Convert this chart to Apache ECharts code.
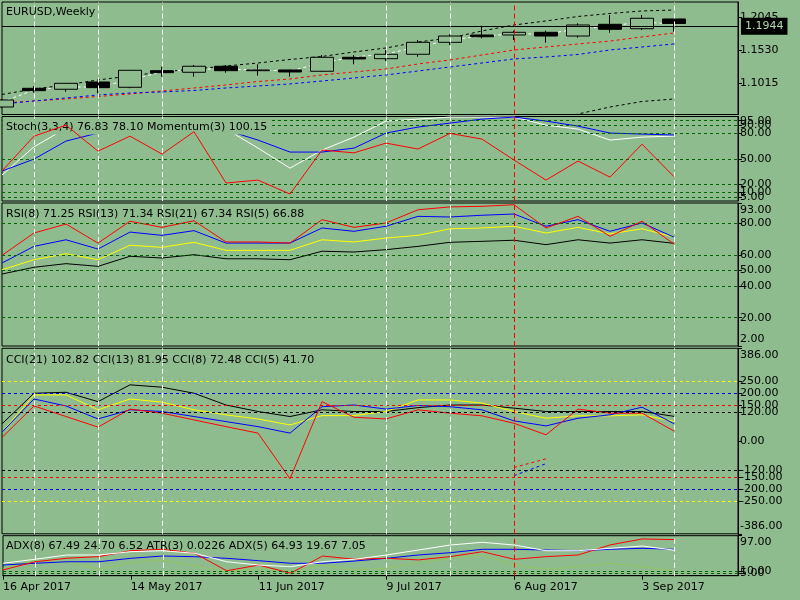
<!DOCTYPE html>
<html>
<head>
<meta charset="utf-8">
<script src="https://cdn.jsdelivr.net/npm/echarts/dist/echarts.min.js"></script>
<style>
  html, body { margin: 0; padding: 0; background: #8fbc8f; }
  #chart { width: 800px; height: 600px; }
</style>
</head>
<body>
<div id="chart"></div>
<script>
// weekly bars, EURUSD (two empty slots on the right)
const dates = ['16 Apr 2017', '23 Apr 2017', '30 Apr 2017', '7 May 2017', '14 May 2017', '21 May 2017',
  '28 May 2017', '4 Jun 2017', '11 Jun 2017', '18 Jun 2017', '25 Jun 2017', '2 Jul 2017', '9 Jul 2017',
  '16 Jul 2017', '23 Jul 2017', '30 Jul 2017', '6 Aug 2017', '13 Aug 2017', '20 Aug 2017', '27 Aug 2017',
  '3 Sep 2017', '10 Sep 2017', '', ''];

const open  = [1.0640, 1.0932, 1.0917, 1.1031, 1.0948, 1.1207, 1.1182, 1.1276, 1.1207, 1.1218, 1.1198,
  1.1416, 1.1394, 1.1463, 1.1650, 1.1764, 1.1764, 1.1806, 1.1748, 1.1931, 1.1862, 1.2014];
const close = [1.0750, 1.0895, 1.1010, 1.0942, 1.1213, 1.1176, 1.1276, 1.1207, 1.1218, 1.1187, 1.1416,
  1.1390, 1.1463, 1.1650, 1.1748, 1.1737, 1.1806, 1.1748, 1.1920, 1.1853, 1.2025, 1.1944];
const low   = [1.0625, 1.0864, 1.0879, 1.0854, 1.0932, 1.1113, 1.1113, 1.1176, 1.1129, 1.1113, 1.1190,
  1.1307, 1.1358, 1.1425, 1.1608, 1.1713, 1.1686, 1.1644, 1.1722, 1.1800, 1.1842, 1.1816];
const high  = [1.0765, 1.0968, 1.1015, 1.1035, 1.1218, 1.1269, 1.1296, 1.1296, 1.1307, 1.1225, 1.1452,
  1.1452, 1.1530, 1.1686, 1.1775, 1.1909, 1.1831, 1.1831, 1.1947, 1.2076, 1.2076, 1.2014];
const bid = 1.1944;

// overlays on price
const bandUpper = [1.0836, 1.0921, 1.0984, 1.1062, 1.1124, 1.1187, 1.1233, 1.1280, 1.1327, 1.1382, 1.1429,
  1.1499, 1.1561, 1.1655, 1.1717, 1.1827, 1.1920, 1.1983, 1.2053, 1.2100, 1.2139, 1.2154];
const bandLower = [null, null, null, null, null, null, null, null, null, null, null,
  null, null, null, null, null, null, 1.0380, 1.0531, 1.0640, 1.0726, 1.0765];
const maFast = [1.0718, 1.0906, 1.0953, 1.0953, 1.1062, 1.1187, 1.1233, 1.1233, 1.1218, 1.1202, 1.1327,
  1.1421, 1.1468, 1.1577, 1.1686, 1.1748, 1.1780, 1.1780, 1.1858, 1.1905, 1.1967, 1.1936];
const maRed = [1.0703, 1.0734, 1.0765, 1.0804, 1.0843, 1.0890, 1.0937, 1.0984, 1.1038, 1.1077, 1.1140,
  1.1187, 1.1233, 1.1312, 1.1374, 1.1452, 1.1530, 1.1577, 1.1624, 1.1670, 1.1733, 1.1795];
const maBlue = [1.0687, 1.0734, 1.0781, 1.0828, 1.0859, 1.0875, 1.0898, 1.0937, 1.0968, 1.1000, 1.1046,
  1.1093, 1.1140, 1.1202, 1.1265, 1.1327, 1.1390, 1.1421, 1.1460, 1.1530, 1.1577, 1.1624];

// Stoch(3,3,4) + Momentum(3)
const stochMain = [30.7, 64.1, 86, 92, 90, 88, 90, 85.1, 62.6, 38.9, 60.2, 75.6, 94.6, 96.9, 99.3, 99.3,
  99.3, 89.8, 85.1, 72.1, 75.6, 76.83];
const stochSignal = [35.4, 49.6, 70.9, 80.4, 86.3, 88.6, 87.5, 83.9, 72.1, 57.9, 57.9, 62.6, 80.4, 87.5,
  92.2, 96.9, 99.3, 94.6, 88.6, 80.4, 79.2, 78.10];
const momentum = [100.42, 102.07, 102.59, 101.36, 102.07, 101.22, 102.28, 99.85, 99.99, 99.33, 101.41,
  101.28, 101.74, 101.46, 102.20, 101.93, 100.94, 99.99, 100.89, 100.13, 101.69, 100.15];
const stochLevels = [95, 90, 80, 50, 20, 10, 5];
const stochTicks = [100, 95, 90, 80, 50, 20, 10, 5, 0];
const stochTickText = ['100.0', '95.00', '90.00', '80.00', '50.00', '20.00', '10.00', '5.00', '0.00'];

// RSI
const rsi8  = [54.8, 65.4, 69.6, 63.7, 74.5, 72.4, 75.4, 67.5, 67.5, 67.5, 77.1, 75.0, 78.2, 84.5, 84.1,
  85.2, 86.0, 78.2, 82.4, 75.0, 80.3, 71.25];
const rsi13 = [50.5, 56.9, 60.7, 56.9, 66.1, 64.8, 68.0, 62.9, 62.9, 62.9, 69.6, 68.2, 70.7, 72.4, 76.6,
  77.1, 78.2, 73.9, 77.5, 73.3, 76.6, 71.34];
const rsi21 = [47.8, 52.1, 54.4, 52.7, 59.1, 58.0, 60.1, 57.5, 57.5, 56.9, 62.3, 61.8, 63.3, 65.4, 68.0,
  68.6, 69.3, 66.5, 69.6, 67.5, 69.6, 67.34];
const rsi5  = [59.7, 73.9, 79.6, 67.5, 81.4, 77.5, 81.7, 68.2, 68.2, 67.5, 82.4, 77.5, 80.3, 88.7, 90.5,
  90.9, 91.9, 77.1, 84.5, 71.8, 81.4, 66.88];
const rsiLevels = [80, 60, 50, 40, 20];
const rsiTicks = [93, 80, 60, 50, 40, 20, 2];

// CCI
const cci21 = [71.5, 199, 203, 164, 234, 224, 199, 150, 123, 102, 130, 123, 123, 139, 150, 150, 137, 123,
  123, 123, 123, 102.82];
const cci13 = [37, 192, 192, 130, 175, 162, 130, 109, 92, 67, 106, 106, 123, 171, 171, 158, 123, 95, 105,
  105, 109, 81.95];
const cci8  = [37, 175, 146, 92, 130, 123, 102, 81, 60, 33, 143, 150, 133, 148, 143, 130, 84, 63, 95, 109,
  141, 72.48];
const cci5  = [15, 146, 102, 58, 133, 116, 88, 60, 33, -157, 164, 99, 92, 130, 116, 105, 74, 26, 133, 116,
  116, 41.70];
const trendRed  = [null, null, null, null, null, null, null, null, null, null, null, null, null, null, null,
  null, -110, -74];
const trendBlue = [null, null, null, null, null, null, null, null, null, null, null, null, null, null, null,
  null, -144, -94];
const cciTicks = [386, 250, 200, 150, 120, 0, -120, -150, -200, -250, -386];

// ADX(8), ATR(3), ADX(5)
const adxWhite = [30.1, 39.8, 50.2, 50.2, 58.2, 60.6, 54.3, 33.9, 25.9, 21.8, 33.9, 39.8, 50.2, 62.3, 74.4,
  81.0, 74.4, 60.6, 60.6, 66.4, 72.0, 62.0];
const adxBlue = [25.9, 30.1, 33.9, 33.9, 42.2, 47.8, 46.1, 42.2, 36.4, 30.1, 30.1, 35.6, 42.2, 50.2, 55.8,
  64.0, 64.0, 62.3, 60.6, 64.0, 66.4, 64.0];
const adxDi = [17.9, 36.4, 33.9, 15.5, 31.5, 38.1, 23.5, 9.7, 17.9, 9.7, 25.9, 13.8, 17.9, 31.5, 42.2, 50.2,
  25.9, 15.5, 21.8, 30.1, 21.8, 12.1];
const atr = [0.0078, 0.0118, 0.0135, 0.0143, 0.0172, 0.0179, 0.0159, 0.0074, 0.0102, 0.0062, 0.0146,
  0.0130, 0.0135, 0.0127, 0.0143, 0.0167, 0.0130, 0.0143, 0.0151, 0.0200, 0.0229, 0.0226];
const adxLevels = [10, 5];
const adxTicks = [97, 10, 5, 0];

// vertical markers
const whiteMarks = ['23 Apr 2017', '7 May 2017', '21 May 2017', '9 Jul 2017', '23 Jul 2017', '10 Sep 2017'];
const redMark = '6 Aug 2017';

const FONT = 'DejaVu Sans';
const BG = '#8fbc8f';
const LEVEL = '#006400';
const DASH = [3, 3];

const chart = echarts.init(document.getElementById('chart'));

function rightAxis(grid, min, max, ticks, texts, padTop, padBot) {
  return {
    type: 'value', gridIndex: grid, position: 'right', min: min, max: max,
    axisLine: { show: true, lineStyle: { color: '#000', width: 1 } },
    splitLine: { show: false },
    axisTick: { show: true, length: 4, customValues: ticks, lineStyle: { color: '#000' } },
    axisLabel: {
      customValues: ticks, margin: 2, color: '#000', fontSize: 11, fontFamily: FONT,
      formatter: function (v) {
        const t = texts ? texts[ticks.indexOf(v)] : v.toFixed(2);
        if (v === max) return '{dn|' + t + '}';
        if (v === min) return '{up|' + t + '}';
        return t;
      },
      rich: {
        dn: { padding: [padTop, 0, 0, 0], fontSize: 11, fontFamily: FONT, color: '#000' },
        up: { padding: [0, 0, padBot, 0], fontSize: 11, fontFamily: FONT, color: '#000' }
      }
    }
  };
}

function hiddenAxis(grid, min, max) {
  return { type: 'value', gridIndex: grid, min: min, max: max, show: false, splitLine: { show: false } };
}

function line(data, color, xi, yi, extra) {
  const s = {
    type: 'line', data: data, xAxisIndex: xi, yAxisIndex: yi, symbol: 'none', silent: true, z: 2,
    lineStyle: { color: color, width: 1 }, itemStyle: { color: color }
  };
  if (extra) {
    if (extra.lineStyle) Object.assign(s.lineStyle, extra.lineStyle);
    Object.keys(extra).forEach(function (k) { if (k !== 'lineStyle') s[k] = extra[k]; });
  }
  return s;
}

function levelLines(vals, color) {
  return {
    symbol: 'none', silent: true, label: { show: false },
    lineStyle: { color: color, type: DASH, width: 1 },
    data: vals.map(function (v) { return { yAxis: v }; })
  };
}

function markers(xi, yi) {
  const data = whiteMarks.map(function (d) { return { xAxis: d, lineStyle: { color: '#fff' } }; });
  data.push({ xAxis: redMark, lineStyle: { color: '#ff0000' } });
  return {
    type: 'line', data: [], xAxisIndex: xi, yAxisIndex: yi, z: 10, silent: true,
    markLine: { symbol: 'none', silent: true, label: { show: false },
      lineStyle: { type: [5, 3], width: 1 }, data: data }
  };
}

const grids = [
  { top: 2, height: 112.5 },
  { top: 116.5, height: 84.5 },
  { top: 203, height: 143 },
  { top: 348.3, height: 185.5 },
  { top: 535.7, height: 40 }
].map(function (g) {
  return { left: 2, right: 62, top: g.top, height: g.height, show: true,
    borderColor: '#000', borderWidth: 1, backgroundColor: 'transparent' };
});

const xAxes = grids.map(function (g, i) {
  return {
    type: 'category', gridIndex: i, data: dates, boundaryGap: false, show: i === 4,
    axisLine: { show: true, lineStyle: { color: '#000' } },
    axisTick: { show: true, interval: 3, length: 4, lineStyle: { color: '#000' } },
    axisLabel: { interval: 3, align: 'left', margin: 6, color: '#000', fontSize: 11, fontFamily: FONT },
    splitLine: { show: false }
  };
});

const yAxes = [
  rightAxis(0, 1.0523, 1.2279, [1.1015, 1.1530, 1.2045], ['1.1015', '1.1530', '1.2045'], 0, 0),
  rightAxis(1, 0, 100, stochTicks, stochTickText, 12, 10),
  hiddenAxis(1, 99, 103),
  rightAxis(2, 2, 93, rsiTicks, null, 15, 13),
  rightAxis(3, -386, 386, cciTicks, null, 13, 15),
  rightAxis(4, 0, 97, adxTicks, null, 13, 4),
  hiddenAxis(4, 0.005, 0.0245)
];

const titleStyle = { color: '#000', fontSize: 11, fontWeight: 'normal', fontFamily: FONT, lineHeight: 13 };

const option = {
  backgroundColor: BG,
  animation: false,
  title: [
    { text: 'EURUSD,Weekly', left: 6, top: 5.5, padding: 0, textStyle: titleStyle },
    { text: 'Stoch(3,3,4) 76.83 78.10 Momentum(3) 100.15', left: 3, top: 118.5,
      padding: [2, 3, 1, 3], backgroundColor: BG, textStyle: titleStyle },
    { text: 'RSI(8) 71.25 RSI(13) 71.34 RSI(21) 67.34 RSI(5) 66.88', left: 6, top: 207.5, padding: 0,
      textStyle: titleStyle },
    { text: 'CCI(21) 102.82 CCI(13) 81.95 CCI(8) 72.48 CCI(5) 41.70', left: 6, top: 353.5, padding: 0,
      textStyle: titleStyle },
    { text: 'ADX(8) 67.49 24.70 6.52 ATR(3) 0.0226 ADX(5) 64.93 19.67 7.05', left: 6, top: 539.5, padding: 0,
      textStyle: titleStyle }
  ],
  grid: grids,
  xAxis: xAxes,
  yAxis: yAxes,
  series: [
    // price pane
    {
      type: 'candlestick', xAxisIndex: 0, yAxisIndex: 0, barWidth: 23, silent: true, clip: true,
      data: open.map(function (o, i) { return [o, close[i], low[i], high[i]]; }),
      itemStyle: { color: BG, color0: '#000', borderColor: '#000', borderColor0: '#000', borderWidth: 1 },
      markLine: {
        symbol: 'none', silent: true,
        lineStyle: { color: '#000', type: 'solid', width: 1 },
        label: { show: true, position: 'end', distance: 3, formatter: bid.toFixed(4),
          backgroundColor: '#000', color: '#b0d8ac', padding: [4, 4, 2, 4], fontSize: 11, fontFamily: FONT },
        data: [{ yAxis: bid }]
      }
    },
    line(bandUpper, '#000', 0, 0, { lineStyle: { type: DASH } }),
    line(bandLower, '#000', 0, 0, { lineStyle: { type: DASH } }),
    line(maRed, '#ff0000', 0, 0, { lineStyle: { type: DASH } }),
    line(maBlue, '#0000ff', 0, 0, { lineStyle: { type: DASH } }),
    line(maFast, '#ffffff', 0, 0, { lineStyle: { type: DASH } }),
    markers(0, 0),

    // stochastic + momentum pane
    line(stochMain, '#ffffff', 1, 1, { markLine: levelLines(stochLevels, LEVEL) }),
    line(stochSignal, '#0000ff', 1, 1),
    line(momentum, '#ff0000', 1, 2, { z: 10 }),
    markers(1, 1),

    // RSI pane
    line(rsi21, '#000000', 2, 3, { markLine: levelLines(rsiLevels, LEVEL) }),
    line(rsi13, '#ffff00', 2, 3),
    line(rsi8, '#0000ff', 2, 3),
    line(rsi5, '#ff0000', 2, 3),
    markers(2, 3),

    // CCI pane
    line(cci21, '#000000', 3, 4, {
      markLine: {
        symbol: 'none', silent: true, label: { show: false },
        lineStyle: { type: DASH, width: 1 },
        data: [
          { yAxis: 250, lineStyle: { color: '#ffff00' } }, { yAxis: -250, lineStyle: { color: '#ffff00' } },
          { yAxis: 200, lineStyle: { color: '#0000ff' } }, { yAxis: -200, lineStyle: { color: '#0000ff' } },
          { yAxis: 150, lineStyle: { color: '#ff0000' } }, { yAxis: -150, lineStyle: { color: '#ff0000' } },
          { yAxis: 120, lineStyle: { color: '#000000' } }, { yAxis: -120, lineStyle: { color: '#000000' } }
        ]
      }
    }),
    line(cci13, '#ffff00', 3, 4),
    line(cci8, '#0000ff', 3, 4),
    line(cci5, '#ff0000', 3, 4),
    line(trendRed, '#ff0000', 3, 4, { lineStyle: { type: DASH } }),
    line(trendBlue, '#0000ff', 3, 4, { lineStyle: { type: DASH } }),
    markers(3, 4),

    // ADX / ATR pane
    line(adxDi, '#9acd32', 4, 5, { lineStyle: { type: [2, 2] }, markLine: levelLines(adxLevels, LEVEL) }),
    line(adxBlue, '#0000ff', 4, 5),
    line(atr, '#ff0000', 4, 6),
    line(adxWhite, '#ffffff', 4, 5),
    markers(4, 5)
  ]
};

chart.setOption(option);
</script>
</body>
</html>
